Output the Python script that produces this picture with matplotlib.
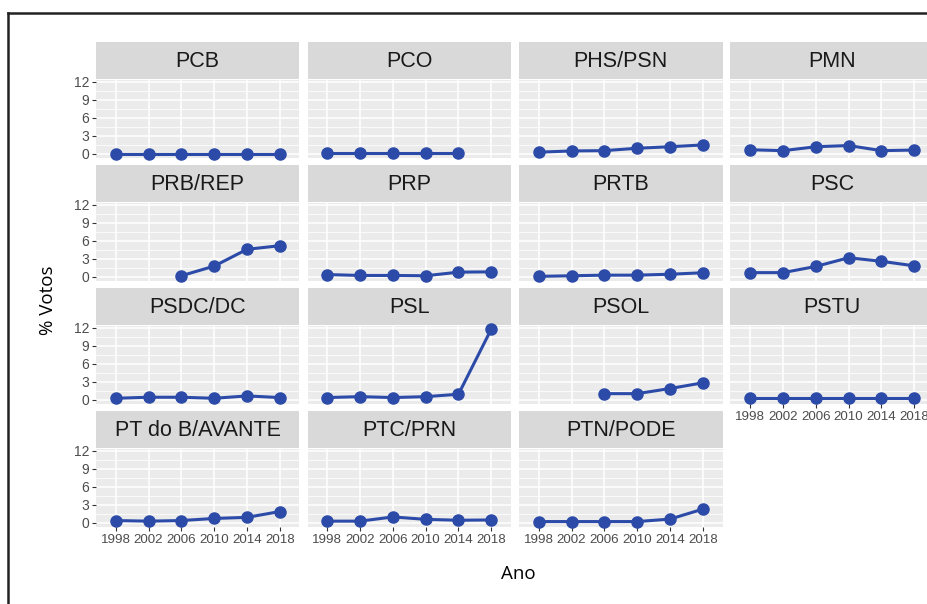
import matplotlib.pyplot as plt
import numpy as np
from matplotlib.lines import Line2D

# % de votos por partido e ano (NaN = partido sem candidatos no ano)
nan = np.nan
anos = ['1998', '2002', '2006', '2010', '2014', '2018']
partidos = ['PCB', 'PCO', 'PHS/PSN', 'PMN',
            'PRB/REP', 'PRP', 'PRTB', 'PSC',
            'PSDC/DC', 'PSL', 'PSOL', 'PSTU',
            'PT do B/AVANTE', 'PTC/PRN', 'PTN/PODE']

pcb = [0.05, 0.05, 0.05, 0.05, 0.05, 0.05]
pco = [0.1, 0.1, 0.1, 0.1, 0.1, nan]
phs_psn = [0.3, 0.5, 0.55, 0.95, 1.2, 1.5]
pmn = [0.7, 0.55, 1.2, 1.4, 0.55, 0.65]
prb_rep = [nan, nan, 0.2, 1.8, 4.6, 5.2]
prp = [0.4, 0.25, 0.25, 0.2, 0.8, 0.85]
prtb = [0.1, 0.2, 0.3, 0.3, 0.45, 0.7]
psc = [0.72, 0.72, 1.75, 3.2, 2.6, 1.85]
psdc_dc = [0.28, 0.45, 0.45, 0.28, 0.67, 0.4]
psl = [0.4, 0.55, 0.4, 0.55, 0.95, 11.8]
psol = [nan, nan, 1.05, 1.05, 1.9, 2.85]
pstu = [0.25, 0.25, 0.25, 0.25, 0.25, 0.25]
ptdob_avante = [0.4, 0.3, 0.4, 0.75, 0.93, 1.9]
ptc_prn = [0.3, 0.3, 1.0, 0.6, 0.45, 0.5]
ptn_pode = [0.23, 0.23, 0.23, 0.23, 0.64, 2.3]

series = [pcb, pco, phs_psn, pmn, prb_rep, prp, prtb, psc,
          psdc_dc, psl, psol, pstu, ptdob_avante, ptc_prn, ptn_pode]

yticks = [0, 3, 6, 9, 12]

W, H = 928, 604
fig = plt.figure(figsize=(W / 100, H / 100), dpi=100)
fig.patch.set_facecolor('white')

def px_axes(x, y, w, h):
    # pixel box (top-left origin) -> figure axes
    return fig.add_axes([x / W, 1 - (y + h) / H, w / W, h / H])

col_x = [96, 307.5, 519, 730.5]
row_y = [42, 165, 288, 411]
pw, sh, ph = 203.5, 37, 78

ymax = np.nanmax([np.nanmax(s) for s in series])
pad = 0.05 * ymax
xs = np.arange(len(anos))

ncol = 4
n = len(partidos)
for i, (partido, vals) in enumerate(zip(partidos, series)):
    r, c = divmod(i, ncol)
    x0, y0 = col_x[c], row_y[r]

    strip = px_axes(x0, y0, pw, sh)
    strip.set_facecolor('#D9D9D9')
    strip.set_xticks([])
    strip.set_yticks([])
    for s in strip.spines.values():
        s.set_visible(False)
    strip.text(0.5, 0.47, partido, ha='center', va='center', fontsize=15.5,
               color='#1A1A1A', family='Liberation Sans',
               transform=strip.transAxes)

    ax = px_axes(x0, y0 + sh + 0.5, pw, ph)
    ax.set_facecolor('#EBEBEB')
    for s in ax.spines.values():
        s.set_visible(False)
    ax.set_xlim(-0.6, len(anos) - 0.4)
    ax.set_ylim(-pad, ymax + pad)
    ax.set_xticks(xs)
    ax.set_yticks(yticks)
    ax.set_yticks([1.5, 4.5, 7.5, 10.5], minor=True)
    ax.grid(which='major', color='white', lw=1.1)
    ax.grid(which='minor', axis='y', color='white', lw=0.55)
    ax.set_axisbelow(True)

    ax.plot(xs, vals, color='#2C4BA8', lw=2.2, marker='o', ms=8,
            solid_capstyle='round', zorder=3, clip_on=False)

    show_y = c == 0
    show_x = i + ncol >= n
    ax.tick_params(which='minor', length=0)
    ax.tick_params(axis='y', which='major', length=3 if show_y else 0,
                   width=0.8, color='#333333', pad=2, labelleft=show_y,
                   labelsize=10, labelcolor='#4D4D4D')
    ax.tick_params(axis='x', which='major', length=3 if show_x else 0,
                   width=0.8, color='#333333', pad=2.5, labelbottom=show_x,
                   labelsize=9.6, labelcolor='#4D4D4D')
    if show_x:
        ax.set_xticklabels(anos, family='Liberation Sans')
    if show_y:
        ax.set_yticklabels([str(t) for t in yticks], family='Liberation Sans')

# axis titles
fig.text(518 / W, 1 - 574 / H, 'Ano', ha='center', va='center',
         fontsize=13.5, family='Open Sans', color='black')
fig.text(48 / W, 1 - 300 / H, '% Votos', ha='center', va='center',
         fontsize=13.5, family='Open Sans', color='black', rotation=90)

# frame around the figure (left and top edges)
fig.add_artist(Line2D([8 / W, 8 / W], [0, 1 - 13 / H], color='#222222',
                      lw=1.8, transform=fig.transFigure))
fig.add_artist(Line2D([8 / W, 1], [1 - 13 / H, 1 - 13 / H], color='#222222',
                      lw=1.8, transform=fig.transFigure))

fig.savefig('out.png', dpi=100)
